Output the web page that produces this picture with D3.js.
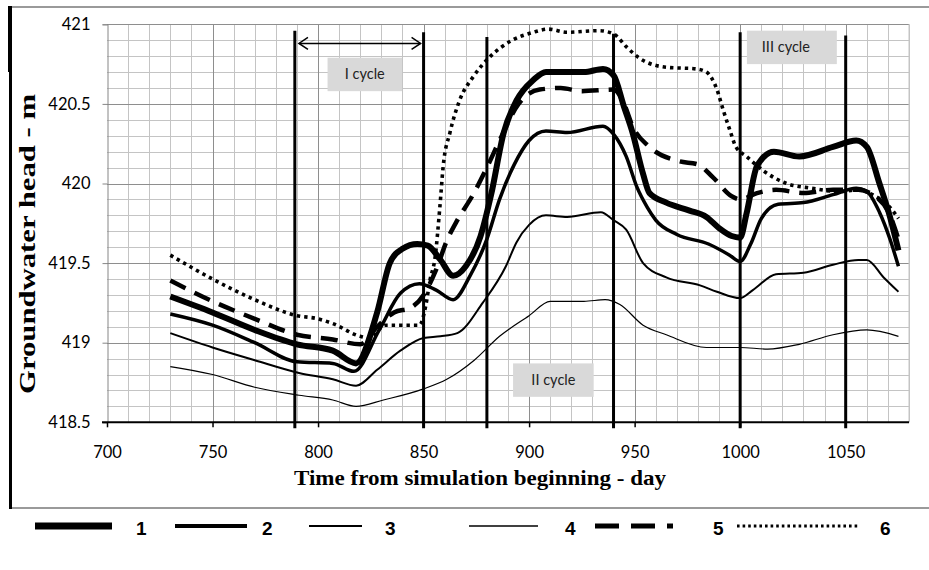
<!DOCTYPE html>
<html><head><meta charset="utf-8">
<script src="https://cdn.jsdelivr.net/npm/d3@7/dist/d3.min.js"></script>
<style>html,body{margin:0;padding:0;background:#fff;}svg{display:block;}</style>
</head><body>
<svg id="c" width="929" height="570"></svg>
<script>
// ---- data ----
const xTicks = [700, 750, 800, 850, 900, 950, 1000, 1050];
const yTicks = [418.5, 419, 419.5, 420, 420.5, 421];
const seriesNames = ["1", "2", "3", "4", "5", "6"];

const days1 = [730, 750, 770, 790, 807, 818, 828, 834, 840, 847, 852, 858, 864, 870, 877, 882, 888, 894, 902, 908, 918, 926, 935, 940, 945, 949, 954, 957, 965, 976, 984, 990, 996, 1000, 1003, 1008, 1016, 1028, 1044, 1055, 1060, 1066, 1071, 1075];
const vals1 = [419.29, 419.19, 419.08, 418.99, 418.95, 418.87, 419.19, 419.50, 419.59, 419.62, 419.61, 419.52, 419.42, 419.48, 419.67, 419.93, 420.32, 420.52, 420.65, 420.70, 420.70, 420.70, 420.72, 420.68, 420.48, 420.32, 420.06, 419.94, 419.88, 419.83, 419.79, 419.72, 419.67, 419.66, 419.81, 420.11, 420.20, 420.17, 420.23, 420.27, 420.23, 420.00, 419.79, 419.58];

const days2 = [730, 750, 770, 790, 807, 817, 829, 839, 848, 856, 864, 872, 880, 886, 893, 900, 908, 918, 935, 940, 946, 951, 956, 960, 970, 985, 995, 1000, 1005, 1010, 1018, 1030, 1044, 1055, 1060, 1066, 1071, 1075];
const vals2 = [419.18, 419.11, 419.00, 418.88, 418.87, 418.82, 419.08, 419.31, 419.37, 419.33, 419.27, 419.42, 419.65, 419.90, 420.12, 420.27, 420.33, 420.32, 420.36, 420.31, 420.17, 419.98, 419.85, 419.77, 419.68, 419.62, 419.55, 419.51, 419.62, 419.78, 419.87, 419.88, 419.93, 419.97, 419.95, 419.82, 419.65, 419.48];

const days3 = [730, 750, 770, 791, 807, 818, 828, 839, 850, 858, 866, 878, 889, 894, 900, 908, 918, 934, 940, 946, 954, 965, 981, 989, 1000, 1006, 1017, 1030, 1044, 1056, 1060, 1068, 1075];
const vals3 = [419.06, 418.97, 418.89, 418.81, 418.77, 418.73, 418.83, 418.95, 419.03, 419.04, 419.06, 419.25, 419.48, 419.63, 419.74, 419.80, 419.79, 419.82, 419.77, 419.71, 419.50, 419.41, 419.36, 419.32, 419.28, 419.33, 419.43, 419.44, 419.49, 419.52, 419.52, 419.41, 419.32];

const days4 = [730, 750, 770, 791, 807, 818, 831, 850, 861, 874, 886, 900, 910, 926, 936, 943, 954, 965, 984, 1000, 1013, 1028, 1044, 1060, 1075];
const vals4 = [418.85, 418.80, 418.72, 418.67, 418.64, 418.60, 418.64, 418.71, 418.77, 418.89, 419.04, 419.17, 419.26, 419.26, 419.27, 419.24, 419.11, 419.05, 418.97, 418.97, 418.96, 418.99, 419.05, 419.08, 419.04];

const days5 = [730, 750, 770, 790, 807, 820, 828, 836, 844, 850, 856, 861, 866, 873, 880, 886, 895, 905, 915, 925, 940, 945, 949, 957, 971, 980, 987, 996, 1000, 1008, 1017, 1030, 1044, 1056, 1064, 1071, 1075];
const vals5 = [419.39, 419.26, 419.15, 419.05, 419.02, 418.99, 419.10, 419.19, 419.22, 419.30, 419.46, 419.64, 419.77, 419.92, 420.10, 420.27, 420.50, 420.59, 420.60, 420.58, 420.59, 420.50, 420.36, 420.23, 420.14, 420.12, 420.04, 419.92, 419.90, 419.94, 419.96, 419.94, 419.96, 419.96, 419.92, 419.80, 419.65];

const days6 = [730, 750, 770, 790, 800, 807, 820, 824, 832, 842, 848, 851, 853, 855.5, 857.7, 859.3, 862.5, 867, 873.5, 881, 892, 902, 909, 918, 933, 940, 946, 952, 965, 979, 984, 989, 992, 995, 998, 1003, 1011, 1022, 1034, 1047, 1056, 1064, 1071, 1075];
const vals6 = [419.55, 419.40, 419.27, 419.17, 419.15, 419.12, 419.04, 419.03, 419.11, 419.11, 419.11, 419.23, 419.39, 419.54, 419.85, 420.11, 420.32, 420.52, 420.67, 420.79, 420.90, 420.95, 420.97, 420.95, 420.96, 420.94, 420.86, 420.79, 420.73, 420.72, 420.70, 420.59, 420.46, 420.34, 420.23, 420.17, 420.08, 420.00, 419.97, 419.95, 419.96, 419.92, 419.85, 419.78];

const cycleDays = [789, 850, 880, 940, 1000, 1050];
const cycleTops = [420.96, 420.95, 420.92, 420.94, 420.95, 420.93];
const cycleLabels = ["I cycle", "II cycle", "III cycle"];

// ---- drawing ----
const svg = d3.select("#c");
const x = d3.scaleLinear().domain([700, 1080]).range([107, 909]);
const y = d3.scaleLinear().domain([418.5, 421]).range([422.3, 24.3]);

// outer frame
svg.append("line").attr("x1", 10).attr("x2", 929).attr("y1", 7).attr("y2", 7).attr("stroke", "#9a9a9a").attr("stroke-width", 2);
svg.append("line").attr("x1", 10).attr("x2", 929).attr("y1", 508).attr("y2", 508).attr("stroke", "#9a9a9a").attr("stroke-width", 2);
svg.append("line").attr("x1", 10.5).attr("x2", 10.5).attr("y1", 6).attr("y2", 509).attr("stroke", "#000").attr("stroke-width", 3);
svg.append("line").attr("x1", 9.5).attr("x2", 9.5).attr("y1", 6).attr("y2", 72).attr("stroke", "#000").attr("stroke-width", 3);

const g = svg.append("g");
// minor grid
const minorX = d3.range(710, 1081, 10).filter(d => d % 50 !== 0);
const minorY = d3.range(0, 26).map(i => 418.5 + i * 0.1).filter((v, i) => i % 5 !== 0);
g.selectAll(".mx").data(minorX).join("line")
  .attr("x1", d => Math.round(x(d)) + 0.5).attr("x2", d => Math.round(x(d)) + 0.5)
  .attr("y1", y(421)).attr("y2", y(418.5)).attr("stroke", "#c4c4c4").attr("stroke-width", 1);
g.selectAll(".my").data(minorY).join("line")
  .attr("x1", x(700)).attr("x2", x(1080))
  .attr("y1", d => Math.round(y(d)) + 0.5).attr("y2", d => Math.round(y(d)) + 0.5)
  .attr("stroke", "#c4c4c4").attr("stroke-width", 1);
// major grid
g.selectAll(".Mx").data(xTicks.filter(d => d > 700)).join("line")
  .attr("x1", d => Math.round(x(d)) + 0.5).attr("x2", d => Math.round(x(d)) + 0.5)
  .attr("y1", y(421)).attr("y2", y(418.5)).attr("stroke", "#8e8e8e").attr("stroke-width", 1);
g.selectAll(".My").data(yTicks.filter(d => d > 418.5)).join("line")
  .attr("x1", x(700)).attr("x2", x(1080))
  .attr("y1", d => Math.round(y(d)) + 0.5).attr("y2", d => Math.round(y(d)) + 0.5)
  .attr("stroke", "#8e8e8e").attr("stroke-width", 1);
// right border of plot
g.append("line").attr("x1", x(1080)).attr("x2", x(1080)).attr("y1", y(421)).attr("y2", y(418.5)).attr("stroke", "#c4c4c4");

// y axis
const yAxis = d3.axisLeft(y).tickValues(yTicks).tickSize(5).tickFormat(d3.format("~g"));
const ya = svg.append("g").attr("transform", `translate(${Math.round(x(700)) + 0.5},0)`).call(yAxis);
ya.select(".domain").attr("stroke", "#868686");
ya.selectAll(".tick line").attr("stroke", "#868686");
ya.selectAll(".tick text").attr("font-family", "Lato, 'Open Sans', sans-serif").attr("font-size", 16.5).attr("fill", "#000").attr("x", -17);

// x axis
const xAxis = d3.axisBottom(x).tickValues(xTicks).tickSize(5).tickFormat(d3.format("d"));
const xa = svg.append("g").attr("transform", `translate(0,${y(418.5)})`).call(xAxis);
xa.select(".domain").attr("stroke", "#000").attr("stroke-width", 2).attr("d", `M${x(700) - 5},0H${x(1080)}`);
xa.selectAll(".tick line").attr("stroke", "#000").attr("stroke-width", 1.5);
xa.selectAll(".tick text").attr("font-family", "Lato, 'Open Sans', sans-serif").attr("font-size", 16.5).attr("fill", "#000").attr("y", 24);

// cycle boundary lines
svg.selectAll(".cyc").data(cycleDays).join("line")
  .attr("x1", d => x(d)).attr("x2", d => x(d))
  .attr("y1", (d, i) => y(cycleTops[i])).attr("y2", y(418.5) + 6)
  .attr("stroke", "#000").attr("stroke-width", 3);

// arrow
const ay = y(420.88);
const ax1 = x(790) + 2, ax2 = x(850) - 3;
svg.append("line").attr("x1", ax1).attr("x2", ax2).attr("y1", ay).attr("y2", ay).attr("stroke", "#000").attr("stroke-width", 1.5);
svg.append("path").attr("d", `M${ax1 + 9},${ay - 6}L${ax1},${ay}L${ax1 + 9},${ay + 6}`).attr("fill", "none").attr("stroke", "#000").attr("stroke-width", 1.5);
svg.append("path").attr("d", `M${ax2 - 9},${ay - 6}L${ax2},${ay}L${ax2 - 9},${ay + 6}`).attr("fill", "none").attr("stroke", "#000").attr("stroke-width", 1.5);

// label boxes
const boxes = [
  {t: cycleLabels[0], d0: 804.5, d1: 839.8, v0: 420.79, v1: 420.58, tx: 0},
  {t: cycleLabels[1], d0: 892.4, d1: 930.6, v0: 418.87, v1: 418.66, tx: 0},
  {t: cycleLabels[2], d0: 1003.2, d1: 1045.8, v0: 420.96, v1: 420.75, tx: -6}
];
boxes.forEach(b => {
  svg.append("rect").attr("x", x(b.d0)).attr("y", y(b.v0)).attr("width", x(b.d1) - x(b.d0)).attr("height", y(b.v1) - y(b.v0)).attr("fill", "#d9d9d9");
  svg.append("text").attr("x", (x(b.d0) + x(b.d1)) / 2 + b.tx).attr("y", (y(b.v0) + y(b.v1)) / 2 + 5)
    .attr("text-anchor", "middle").attr("font-family", "Lato, 'Open Sans', sans-serif").attr("font-size", 14.5).attr("fill", "#222").text(b.t);
});

// series
const styles = [
  {w: 6, dash: null, cap: "butt"},
  {w: 3.5, dash: null, cap: "butt"},
  {w: 2, dash: null, cap: "butt"},
  {w: 1.2, dash: null, cap: "butt"},
  {w: 4.5, dash: "17 10", cap: "butt"},
  {w: 3.6, dash: "3.4 4", cap: "butt"}
];
const allDays = [days1, days2, days3, days4, days5, days6];
const allVals = [vals1, vals2, vals3, vals4, vals5, vals6];
const line = d3.line().x(d => x(d[0])).y(d => y(d[1])).curve(d3.curveMonotoneX);
const drawOrder = [3, 2, 1, 5, 4, 0];
drawOrder.forEach(i => {
  const pts = allDays[i].map((d, j) => [d, allVals[i][j]]);
  const p = svg.append("path").datum(pts).attr("d", line).attr("fill", "none")
    .attr("stroke", "#000").attr("stroke-width", styles[i].w).attr("stroke-linecap", styles[i].cap).attr("stroke-linejoin", "round");
  if (styles[i].dash) p.attr("stroke-dasharray", styles[i].dash);
});

// axis titles
svg.append("text").attr("transform", "translate(35,244) rotate(-90)").attr("text-anchor", "middle")
  .attr("font-family", "'Liberation Serif', 'Times New Roman', serif").attr("font-weight", "bold").attr("font-size", 23)
  .attr("textLength", 300).attr("lengthAdjust", "spacingAndGlyphs").text("Groundwater head - m");
svg.append("text").attr("x", 480).attr("y", 485).attr("text-anchor", "middle")
  .attr("font-family", "'Liberation Serif', 'Times New Roman', serif").attr("font-weight", "bold").attr("font-size", 21)
  .attr("textLength", 372).attr("lengthAdjust", "spacingAndGlyphs")
  .text("Time from simulation beginning - day");

// legend
const legX = [[35, 112, 136], [175, 247, 262], [309, 362, 385], [469, 538, 565], [595, 690, 713], [737, 860, 880]];
const legStyles = [
  {w: 7, dash: null, cap: "butt"},
  {w: 4, dash: null, cap: "butt"},
  {w: 2, dash: null, cap: "butt"},
  {w: 1.5, dash: null, cap: "butt"},
  {w: 5, dash: "24 12 24 12 6 200", cap: "butt"},
  {w: 3, dash: "2.6 3", cap: "butt"}
];
seriesNames.forEach((n, i) => {
  const [a, b, tx] = legX[i];
  const l = svg.append("line").attr("x1", a).attr("x2", b).attr("y1", 526).attr("y2", 526)
    .attr("stroke", "#000").attr("stroke-width", legStyles[i].w).attr("stroke-linecap", legStyles[i].cap);
  if (legStyles[i].dash) l.attr("stroke-dasharray", legStyles[i].dash);
  svg.append("text").attr("x", tx).attr("y", 535).attr("font-family", "'Liberation Sans Narrow', 'Liberation Sans', sans-serif")
    .attr("font-weight", "bold").attr("font-size", 19).text(n);
});
</script>
</body></html>
